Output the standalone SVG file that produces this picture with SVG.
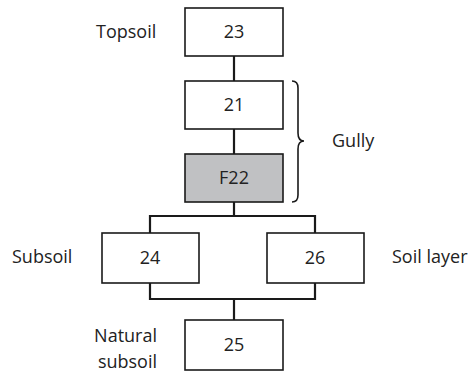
<svg xmlns="http://www.w3.org/2000/svg" width="472" height="374" viewBox="0 0 472 374">
<style>
.box{fill:#fff;stroke:#1a1a1a;stroke-width:1.6}
.grey{fill:#c0c1c3}
.t{font-family:"Open Sans","Liberation Sans",sans-serif;font-size:18px;fill:#222}
.c{text-anchor:middle}
.con{stroke:#1a1a1a;stroke-width:2.2;fill:none}
</style>
<g id="connectors">
<line class="con" x1="234" y1="56" x2="234" y2="81"/>
<line class="con" x1="234" y1="129" x2="234" y2="154"/>
<line class="con" x1="234" y1="202" x2="234" y2="216"/>
<polyline class="con" points="150,233 150,216 315,216 315,233"/>
<polyline class="con" points="150,283 150,299 315,299 315,283"/>
<line class="con" x1="234" y1="299" x2="234" y2="320"/>
</g>
<g id="n23"><rect class="box" x="185" y="8" width="98" height="48"/><text class="t c" x="234" y="38">23</text></g>
<g id="n21"><rect class="box" x="185" y="81" width="98" height="48"/><text class="t c" x="234" y="111">21</text></g>
<g id="nF22"><rect class="box grey" x="185" y="154" width="98" height="48"/><text class="t c" x="234" y="184">F22</text></g>
<g id="n24"><rect class="box" x="102" y="233" width="97" height="50"/><text class="t c" x="150" y="264">24</text></g>
<g id="n26"><rect class="box" x="267" y="233" width="97" height="50"/><text class="t c" x="315" y="264">26</text></g>
<g id="n25"><rect class="box" x="185" y="320" width="98" height="50"/><text class="t c" x="234" y="351">25</text></g>
<g id="labels">
<text class="t" x="96" y="38">Topsoil</text>
<text class="t" x="332" y="147">Gully</text>
<text class="t" x="12" y="263">Subsoil</text>
<text class="t" x="392" y="263">Soil layer</text>
<text class="t" x="157" y="342" text-anchor="end">Natural</text>
<text class="t" x="157" y="368" text-anchor="end">subsoil</text>
</g>
<g id="brace">
<path d="M292,81 Q298,81 298,88 L298,133 Q298,141 304,141 Q298,141 298,149 L298,195 Q298,202 292,202" fill="none" stroke="#1a1a1a" stroke-width="1.6"/>
</g>
</svg>
